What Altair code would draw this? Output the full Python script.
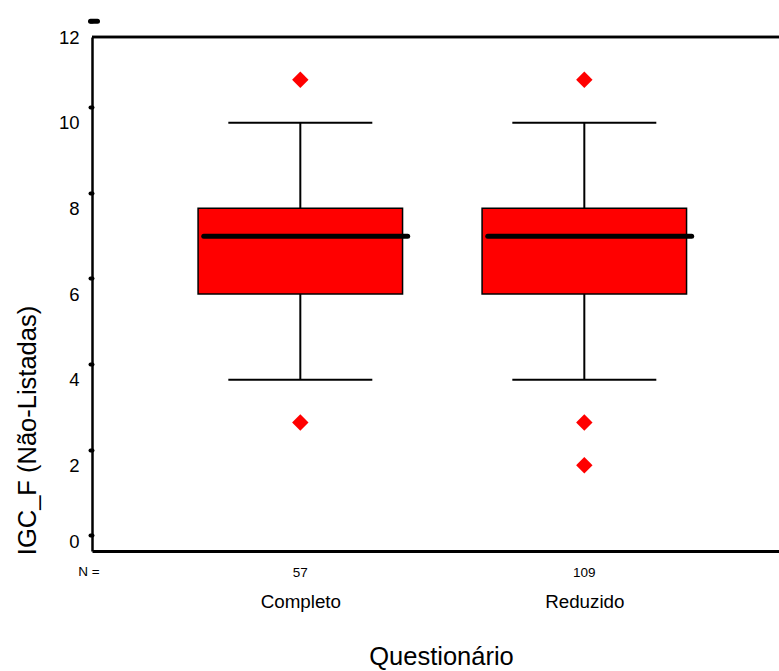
import altair as alt
import pandas as pd

# Box-plot summary per questionnaire version
categories = ["Completo", "Reduzido"]
n_counts = [57, 109]
whisker_low = [4, 4]
q1 = [6, 6]
median = [7.35, 7.35]
q3 = [8, 8]
whisker_high = [10, 10]

# Outlying observations
outlier_group = ["Completo", "Completo", "Reduzido", "Reduzido", "Reduzido"]
outlier_values = [11, 3, 11, 3, 2]

y_ticks = [0, 2, 4, 6, 8, 10, 12]

FONT = "Liberation Sans"
W, H = 687, 514

box_df = pd.DataFrame({
    "grupo": categories,
    "pos": list(range(1, len(categories) + 1)),
    "n": [str(v) for v in n_counts],
    "lo": whisker_low,
    "q1": q1,
    "med": median,
    "q3": q3,
    "hi": whisker_high,
})
pos_of = {c: i + 1 for i, c in enumerate(categories)}
out_df = pd.DataFrame({
    "grupo": outlier_group,
    "pos": [pos_of[g] for g in outlier_group],
    "valor": outlier_values,
})

x_scale = alt.Scale(domain=[0.2665, 2.6855], nice=False, zero=False)
y_scale = alt.Scale(domain=[0, 12], nice=False, zero=False)

label_list = "[" + ",".join("'" + c + "'" for c in categories) + "]"

x_axis = alt.Axis(
    values=list(range(1, len(categories) + 1)),
    labelExpr=label_list + "[datum.value - 1]",
    ticks=False, tickSize=0, grid=False,
    labelPadding=56, labelBaseline="alphabetic",
    labelFont=FONT, labelFontSize=18.8, labelColor="black",
    domainColor="black", domainWidth=3,
    title="Questionário", titleFont=FONT, titleFontSize=25.5,
    titleFontWeight="normal", titleColor="black",
    titleX=349, titleY=113, titleAlign="center", titleBaseline="alphabetic",
)
y_axis = alt.Axis(
    values=y_ticks, format="d", grid=False,
    tickSize=2, tickWidth=4, tickCap="round", tickColor="black",
    tickOffset=-15.7, labelOffset=15.7,
    labelPadding=11, labelFont=FONT, labelFontSize=18.5, labelColor="black",
    labelBaseline={"condition": {"test": "datum.value == 0", "value": "bottom"},
                   "value": "middle"},
    domainColor="black", domainWidth=2.5,
    title="IGC_F (Não-Listadas)", titleFont=FONT, titleFontSize=25.5,
    titleFontWeight="normal", titleColor="black",
    titleAngle=270, titleX=-57, titleY=393,
    titleAlign="center", titleBaseline="alphabetic",
)


def X(field):
    return alt.X(field, scale=x_scale, axis=x_axis)


def Y(field):
    return alt.Y(field, scale=y_scale, axis=y_axis)


base = alt.Chart(box_df)

# frame line along the top of the plot
top_border = base.mark_rule(color="black", strokeWidth=2.5).encode(
    x=alt.value(0), x2=alt.value(W), y=alt.value(0)
)

whisker_up = base.mark_rule(color="black", strokeWidth=2).encode(
    x=X("pos:Q"), y=Y("q3:Q"), y2="hi:Q",
)
whisker_down = base.mark_rule(color="black", strokeWidth=2).encode(
    x=X("pos:Q"), y=Y("lo:Q"), y2="q1:Q",
)

caps = base.transform_calculate(
    cl="datum.pos - 0.2535", cr="datum.pos + 0.2535"
)
cap_hi = caps.mark_rule(color="black", strokeWidth=2).encode(
    x=X("cl:Q"), x2="cr:Q", y=Y("hi:Q"),
)
cap_lo = caps.mark_rule(color="black", strokeWidth=2).encode(
    x=X("cl:Q"), x2="cr:Q", y=Y("lo:Q"),
)

boxes = base.transform_calculate(
    bl="datum.pos - 0.36", br="datum.pos + 0.36"
).mark_rect(fill="#ff0000", stroke="black", strokeWidth=1.5).encode(
    x=X("bl:Q"), x2="br:Q", y=Y("q1:Q"), y2="q3:Q",
)

median_line = base.transform_calculate(
    ml="datum.pos - 0.34", mr="datum.pos + 0.378"
).mark_rule(color="black", strokeWidth=5, strokeCap="round").encode(
    x=X("ml:Q"), x2="mr:Q", y=Y("med:Q"),
)

outliers = alt.Chart(out_df).mark_point(
    shape="diamond", filled=True, size=270, color="#ff0000", opacity=1
).encode(
    x=X("pos:Q"), y=Y("valor:Q"),
)

counts = base.mark_text(
    font=FONT, fontSize=13.5, color="black", baseline="alphabetic", align="center"
).encode(
    x=X("pos:Q"),
    y=alt.value(H + 26),
    text="n:N",
)

n_label = alt.Chart(pd.DataFrame({"t": ["N ="]})).mark_text(
    font=FONT, fontSize=13.5, color="black", baseline="alphabetic", align="center"
).encode(x=alt.value(-3), y=alt.value(H + 25), text="t:N")

# larger tick mark at the top of the value axis
top_tick = alt.Chart(pd.DataFrame({"v": [y_ticks[-1]]})).mark_rule(
    color="black", strokeWidth=5, strokeCap="round", yOffset=-15.7
).encode(
    x=alt.value(-1.5), x2=alt.value(5.5),
    y=Y("v:Q"),
)

chart = alt.layer(
    top_border, whisker_up, whisker_down, cap_hi, cap_lo, boxes,
    median_line, outliers, counts, n_label, top_tick,
).properties(
    width=W, height=H,
    autosize=alt.AutoSizeParams(type="none"),
    padding={"left": 92, "top": 37, "right": 0, "bottom": 120},
    background="white",
).configure_view(stroke=None)

chart.save("out.html", embed_options={"renderer": "svg", "actions": False})
